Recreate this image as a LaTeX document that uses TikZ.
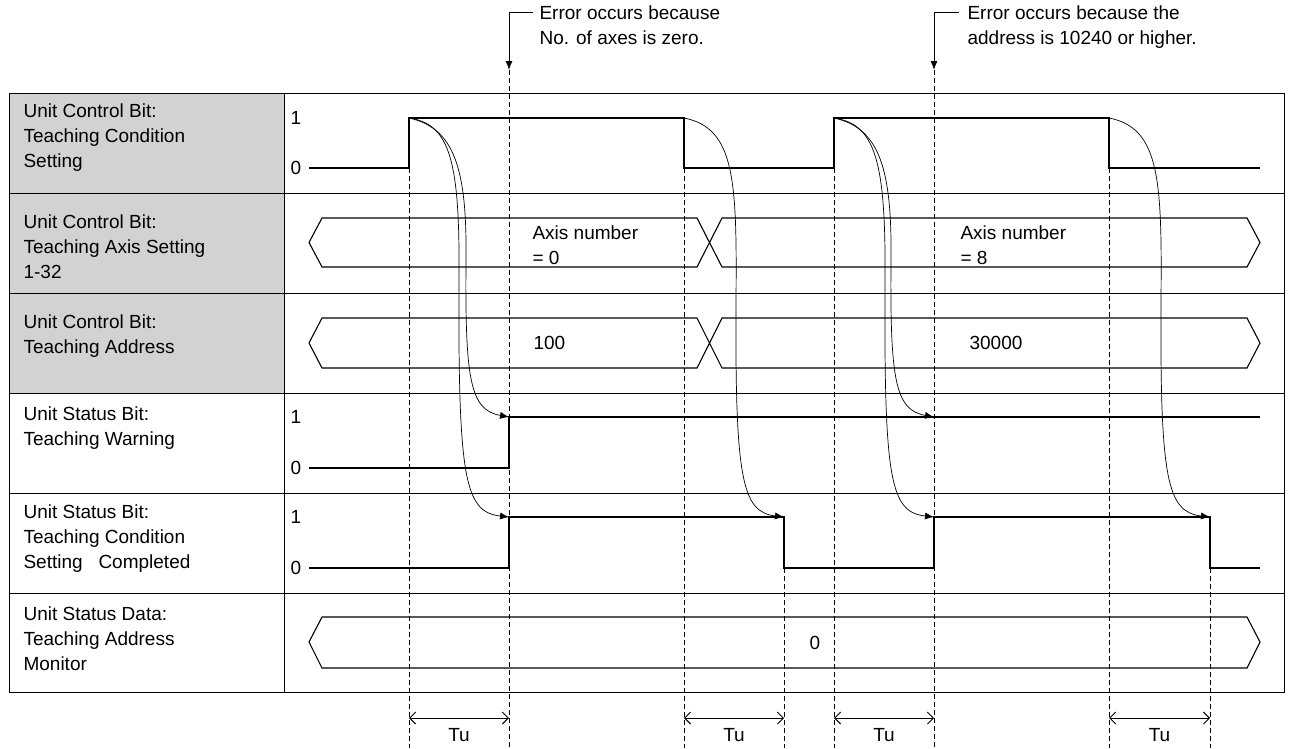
\documentclass[tikz,border=0pt]{standalone}
\usepackage{fontspec}
\setmainfont{Liberation Sans}
\usetikzlibrary{arrows.meta}

\begin{document}
\begin{tikzpicture}[x=1pt,y=-1pt,line width=1.1pt,
                    every node/.style={font=\fontsize{19}{25}\selectfont,inner sep=0pt}]

  \tikzstyle{rowlabel}=[anchor=north west,align=left]
  \tikzstyle{level}=[anchor=west]
  \tikzstyle{timing}=[dashed,line width=0.7pt,dash pattern=on 5pt off 3pt]
  \tikzstyle{sig}=[line width=1.1pt]
  \tikzstyle{react}=[line width=0.7pt,-{Latex[length=9pt,width=7pt]}]
  \tikzstyle{span}=[line width=0.9pt,{Straight Barb[length=6pt,width=12pt]}-{Straight Barb[length=6pt,width=12pt]}]

  \useasboundingbox (0,0) rectangle (1290,748);

  % table
  \fill[gray!35] (9,93) rectangle (284,393);
  \draw[line width=0.9pt] (9,93) rectangle (1284,692);
  \foreach \y in {193,293,393,493,593} \draw[line width=0.9pt] (9,\y) -- (1284,\y);
  \draw[line width=0.9pt] (284,93) -- (284,692);

  \node[rowlabel] (L1) at (23,103) {Unit Control Bit:\\Teaching Condition\\Setting};
  \node[rowlabel] (L2) at (23,214) {Unit Control Bit:\\Teaching Axis Setting\\1-32};
  \node[rowlabel] (L3) at (23,314) {Unit Control Bit:\\Teaching Address};
  \node[rowlabel] (L4) at (23,406) {Unit Status Bit:\\Teaching Warning};
  \node[rowlabel] (L5) at (23,504) {Unit Status Bit:\\Teaching Condition\\Setting\ \ \ Completed};
  \node[rowlabel] (L6) at (23,606) {Unit Status Data:\\Teaching Address\\Monitor};

  % dashed timing lines
  \foreach \x/\ya in {409/168,684/168,834/168,1109/168,784/568,1210/568,509/70,934/70}
    \draw[timing] (\x,\ya) -- (\x,748);

  % row 1
  \node[level] (one1) at (290,118) {1};
  \node[level] (zero1) at (290,168) {0};
  \draw[sig] (309,168) -- (409,168) -- (409,118) -- (684,118) -- (684,168)
             -- (834,168) -- (834,118) -- (1109,118) -- (1109,168) -- (1260,168);

  % bus rows
  \foreach \t/\b in {218/267,318/368}{
    \pgfmathsetmacro{\m}{(\t+\b)/2}
    \draw[sig] (322,\t) -- (697,\t) -- (722,\b) -- (1247,\b) -- (1260,\m) -- (1247,\t)
               -- (722,\t) -- (697,\b) -- (322,\b) -- (309,\m) -- cycle;
  }
  \node[anchor=west,align=left] (ax0) at (532,245) {Axis number\\= 0};
  \node[anchor=west,align=left] (ax8) at (960,245) {Axis number\\= 8};
  \node[anchor=west] (ad0) at (533,343) {100};
  \node[anchor=west] (ad8) at (969,343) {30000};

  % row 4
  \node[level] (one4) at (290,417) {1};
  \node[level] (zero4) at (290,468) {0};
  \draw[sig] (309,468) -- (509,468) -- (509,417) -- (1260,417);

  % row 5
  \node[level] (one5) at (290,517) {1};
  \node[level] (zero5) at (290,568) {0};
  \draw[sig] (309,568) -- (509,568) -- (509,517) -- (784,517) -- (784,568)
             -- (934,568) -- (934,517) -- (1210,517) -- (1210,568) -- (1260,568);

  % row 6
  \draw[sig] (322,617) -- (1247,617) -- (1260,642) -- (1247,668) -- (322,668) -- (309,642) -- cycle;
  \node (mon) at (815,643) {0};

  % reaction curves
  \coordinate (r1) at (409,118);
  \coordinate (r2) at (834,118);
  \draw[react] (r1) .. controls (455,128) and (467,170) .. (466,260)
               .. controls (465,380) and (470,410) .. (509,417);
  \draw[react] (r1) .. controls (450,124) and (460,160) .. (459,280)
               .. controls (458,480) and (465,512) .. (509,517);
  \draw[react] (684,118) .. controls (735,128) and (737,180) .. (736,300)
               .. controls (735,480) and (742,512) .. (784,517);
  \draw[react] (r2) .. controls (880,128) and (892,170) .. (891,260)
               .. controls (890,380) and (895,410) .. (934,417);
  \draw[react] (r2) .. controls (875,124) and (886,160) .. (885,280)
               .. controls (884,480) and (890,512) .. (934,517);
  \draw[react] (1109,118) .. controls (1160,128) and (1162,180) .. (1161,300)
               .. controls (1160,480) and (1167,512) .. (1210,517);

  % annotations
  \coordinate (e1) at (509,70);
  \coordinate (e2) at (934,70);
  \draw[react,line width=0.9pt] (533,12) -- (509,12) -- (e1);
  \draw[react,line width=0.9pt] (959,12) -- (934,12) -- (e2);
  \node[anchor=north west,align=left] (err1) at (539,5) {Error occurs because\\No. of axes is zero.};
  \node[anchor=north west,align=left] (err2) at (967,5) {Error occurs because the\\address is 10240 or higher.};

  % Tu spans
  \foreach \a/\b in {409/509,684/784,834/934,1109/1210}{
    \draw[span] (\a,718) -- (\b,718);
    \node (tu\a) at ({(\a+\b)/2},735) {Tu};
  }
\end{tikzpicture}
\end{document}
